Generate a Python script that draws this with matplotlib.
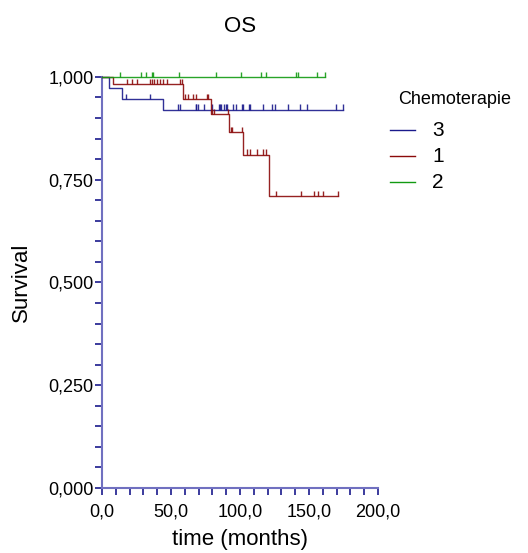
import numpy as np
import matplotlib
matplotlib.use('Agg')
import matplotlib.pyplot as plt
from matplotlib.lines import Line2D

plt.rcParams['font.family'] = ['Liberation Sans', 'DejaVu Sans']

# Kaplan-Meier steps: drop times (months) and survival after each drop
g3_times = [0.0, 5.3, 14.2, 44.4, 174.9]
g3_surv = [1.000, 0.972, 0.946, 0.920, 0.920]
g3_cens = [17.8, 34.8, 55.3, 56.5, 67.9, 68.1, 69.7, 73.9, 79.5, 84.8, 85.5,
           86.2, 88.6, 89.6, 90.3, 95.1, 97.1, 101.2, 102.4, 106.7, 107.2,
           116.9, 123.4, 125.4, 134.6, 143.5, 148.3, 169.3, 174.9]

g1_times = [0.0, 8.2, 58.5, 78.8, 92.3, 101.9, 121.3, 170.8]
g1_surv = [1.000, 0.983, 0.946, 0.910, 0.865, 0.811, 0.710, 0.710]
g1_cens = [18.3, 22.0, 25.6, 34.8, 36.2, 37.7, 39.6, 42.0, 44.0, 46.9, 56.5,
           57.7, 60.1, 62.5, 66.2, 68.1, 75.8, 77.0, 79.5, 81.2, 91.5, 93.2,
           93.9, 101.7, 105.3, 107.2, 112.1, 116.4, 118.8, 125.8, 144.2,
           153.8, 156.3, 160.4, 170.8]

g2_times = [0.0, 161.6]
g2_surv = [1.000, 1.000]
g2_cens = [13.0, 28.0, 31.7, 36.0, 37.2, 56.0, 82.6, 100.9, 115.4, 118.8,
           140.9, 142.2, 155.6, 161.6]

groups = ['3', '1', '2']
colors = ['#1a1a8c', '#8b0a0a', '#129a12']
series = [(g3_times, g3_surv, g3_cens), (g1_times, g1_surv, g1_cens),
          (g2_times, g2_surv, g2_cens)]

fig = plt.figure(figsize=(5.28, 5.53), dpi=100)
ax = fig.add_axes([0.193, 0.1175, 0.523, 0.7435])

for (t, s, c), col in zip(series, colors):
    ax.step(t, s, where='post', color=col, lw=1.0, alpha=0.9, clip_on=False,
            zorder=3)
    idx = np.searchsorted(t, c, side='right') - 1
    yc = np.array(s)[idx]
    ax.vlines(c, yc, yc + 0.013, color=col, lw=1.0, alpha=0.9, clip_on=False,
              zorder=3)

ax.set_xlim(0, 200)
ax.set_ylim(0, 1.0)
ax.set_xticks(np.arange(0, 201, 50))
ax.set_xticks(np.arange(0, 201, 10), minor=True)
ax.set_yticks(np.arange(0, 1.01, 0.25))
ax.set_yticks(np.arange(0, 1.01, 0.05), minor=True)
ax.set_xticklabels(['0,0', '50,0', '100,0', '150,0', '200,0'])
ax.set_yticklabels(['0,000', '0,250', '0,500', '0,750', '1,000'])

for sp in ['top', 'right']:
    ax.spines[sp].set_visible(False)
for sp in ['left', 'bottom']:
    ax.spines[sp].set_color('#7070c0')
    ax.spines[sp].set_linewidth(1.5)
ax.tick_params(which='both', direction='out', length=5, width=1.2,
               color='#1a1a8c', labelsize=13)
ax.tick_params(axis='x', pad=6)
ax.tick_params(axis='y', pad=1)

ax.set_xlabel('time (months)', fontsize=16, labelpad=6)
ax.set_ylabel('Survival', fontsize=16, labelpad=12)
ax.set_title('OS', fontsize=16, pad=32)

# legend drawn at fixed figure positions
W, H = 528, 553
fig.text(398 / W, 1 - 100 / H, 'Chemoterapie', fontsize=13, va='center',
         ha='left')
for i, (g, col) in enumerate(zip(groups, colors)):
    yy = 1 - (130 + 26 * i) / H
    fig.add_artist(Line2D([390 / W, 415 / W], [yy, yy], color=col, lw=1.0,
                          transform=fig.transFigure))
    fig.text(432 / W, yy, g, fontsize=15, va='center', ha='left')

fig.savefig('out.png', dpi=100)
